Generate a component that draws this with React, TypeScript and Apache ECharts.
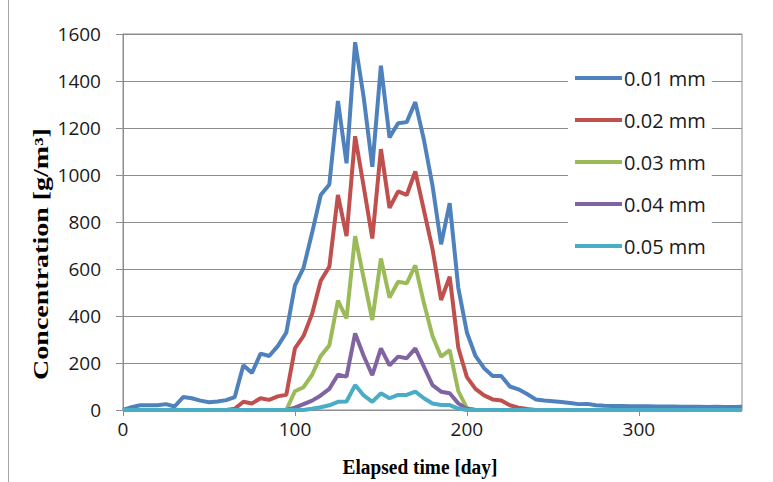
import React, { useEffect, useRef } from "react";
import * as echarts from "echarts";

// Sampling days (every 5 days over one year)
const days: number[] = [];
for (let d = 0; d <= 360; d += 5) days.push(d);

// Concentration [g/m3] per particle size, one value per sampling day
const conc001 = [
  0, 12, 20, 20, 20, 25, 15, 55, 50, 40, 33, 36, 42, 55, 190, 158, 240, 230, 272, 330,
  530, 605, 755, 915, 960, 1315, 1050, 1565, 1330, 1035, 1465, 1160, 1220, 1225, 1310, 1150,
  955, 705, 880, 520, 330, 230, 178, 145, 145, 100, 88, 68, 45, 40, 37, 34, 30, 25, 26, 20,
  18, 17, 17, 16, 16, 16, 15, 15, 15, 14, 14, 14, 13, 14, 13, 13, 14,
];
const conc002 = [
  0, 0, 0, 0, 0, 0, 0, 0, 0, 0, 0, 0, 0, 5, 35, 28, 50, 43, 58, 65,
  262, 315, 410, 550, 610, 915, 740, 1165, 950, 730, 1110, 860, 930, 915, 1015, 850,
  685, 468, 567, 265, 140, 90, 62, 45, 40, 20, 10, 4, 0, 0, 0, 0, 0, 0, 0, 0,
  0, 0, 0, 0, 0, 0, 0, 0, 0, 0, 0, 0, 0, 0, 0, 0, 0,
];
const conc003 = [
  0, 0, 0, 0, 0, 0, 0, 0, 0, 0, 0, 0, 0, 0, 0, 0, 0, 0, 0, 0,
  80, 97, 150, 230, 275, 465, 390, 740, 560, 383, 645, 478, 546, 539, 615, 455,
  315, 227, 255, 80, 8, 0, 0, 0, 0, 0, 0, 0, 0, 0, 0, 0, 0, 0, 0, 0,
  0, 0, 0, 0, 0, 0, 0, 0, 0, 0, 0, 0, 0, 0, 0, 0, 0,
];
const conc004 = [
  0, 0, 0, 0, 0, 0, 0, 0, 0, 0, 0, 0, 0, 0, 0, 0, 0, 0, 0, 0,
  10, 25, 40, 62, 90, 150, 142, 326, 230, 148, 262, 190, 227, 220, 262, 184,
  106, 78, 71, 28, 5, 0, 0, 0, 0, 0, 0, 0, 0, 0, 0, 0, 0, 0, 0, 0,
  0, 0, 0, 0, 0, 0, 0, 0, 0, 0, 0, 0, 0, 0, 0, 0, 0,
];
const conc005 = [
  0, 0, 0, 0, 0, 0, 0, 0, 0, 0, 0, 0, 0, 0, 0, 0, 0, 0, 0, 0,
  0, 0, 5, 12, 20, 35, 36, 106, 62, 35, 71, 50, 64, 64, 78, 50,
  28, 21, 21, 6, 0, 0, 0, 0, 0, 0, 0, 0, 0, 0, 0, 0, 0, 0, 0, 0,
  0, 0, 0, 0, 0, 0, 0, 0, 0, 0, 0, 0, 0, 0, 0, 0, 0,
];

const seriesNames = ["0.01 mm", "0.02 mm", "0.03 mm", "0.04 mm", "0.05 mm"];
const seriesValues = [conc001, conc002, conc003, conc004, conc005];
const seriesColors = ["#4F81BD", "#C0504D", "#9BBB59", "#8064A2", "#4BACC6"];

const gridColor = "#8C8C8C";
const labelFont = "Open Sans";

export default function App() {
  const ref = useRef<HTMLDivElement>(null);

  useEffect(() => {
    if (!ref.current) return;
    const chart = echarts.init(ref.current, undefined, { renderer: "svg" });

    chart.setOption({
      animation: false,
      backgroundColor: "#ffffff",
      grid: {
        left: 123,
        right: 31,
        top: 34,
        bottom: 72,
        show: true,
        borderColor: gridColor,
        borderWidth: 1,
      },
      legend: {
        orient: "vertical",
        left: 568,
        top: 60,
        padding: [8, 6, 8, 7],
        backgroundColor: "#ffffff",
        icon: "rect",
        itemWidth: 47,
        itemHeight: 4,
        itemGap: 22,
        data: seriesNames,
        textStyle: {
          fontFamily: labelFont,
          fontSize: 20,
          lineHeight: 20,
          color: "#1a1a1a",
          padding: [0, 0, 0, -3],
        },
      },
      xAxis: {
        type: "value",
        min: 0,
        max: 360,
        interval: 100,
        axisLine: { show: true, lineStyle: { color: gridColor, width: 1 } },
        axisTick: { show: true, length: 6, lineStyle: { color: gridColor } },
        splitLine: { show: false },
        axisLabel: {
          fontFamily: labelFont,
          fontSize: 19,
          color: "#1a1a1a",
          margin: 9,
          showMaxLabel: false,
          formatter: (v: number) => String(v),
        },
      },
      yAxis: {
        type: "value",
        min: 0,
        max: 1600,
        interval: 200,
        axisLine: { show: true, lineStyle: { color: gridColor, width: 1 } },
        axisTick: { show: true, length: 7, lineStyle: { color: gridColor } },
        splitLine: { show: true, lineStyle: { color: gridColor, width: 1 } },
        axisLabel: {
          fontFamily: labelFont,
          fontSize: 19,
          color: "#1a1a1a",
          margin: 22,
          formatter: (v: number) => String(v),
        },
      },
      graphic: [
        {
          type: "line",
          shape: { x1: 8.5, y1: 0, x2: 8.5, y2: 482 },
          style: { stroke: "#a6a6a6", lineWidth: 1 },
          silent: true,
        },
        {
          type: "text",
          x: 41,
          y: 254,
          rotation: Math.PI / 2,
          scaleX: 1.4,
          style: {
            text: "Concentration [g/m³]",
            font: 'bold 20px "Liberation Serif"',
            fill: "#000000",
            align: "center",
            verticalAlign: "middle",
          },
        },
        {
          type: "text",
          x: 420,
          y: 467,
          scaleX: 0.88,
          style: {
            text: "Elapsed time [day]",
            font: 'bold 22px "Liberation Serif"',
            fill: "#000000",
            align: "center",
            verticalAlign: "middle",
          },
        },
      ],
      series: seriesNames.map((name, i) => ({
        name,
        type: "line",
        showSymbol: false,
        symbol: "none",
        color: seriesColors[i],
        lineStyle: { width: 4, color: seriesColors[i] },
        data: days.map((d, j) => [d, seriesValues[i][j]]),
      })),
    });

    return () => chart.dispose();
  }, []);

  return <div ref={ref} style={{ width: 773, height: 482, position: "absolute", left: 0, top: 0 }} />;
}
